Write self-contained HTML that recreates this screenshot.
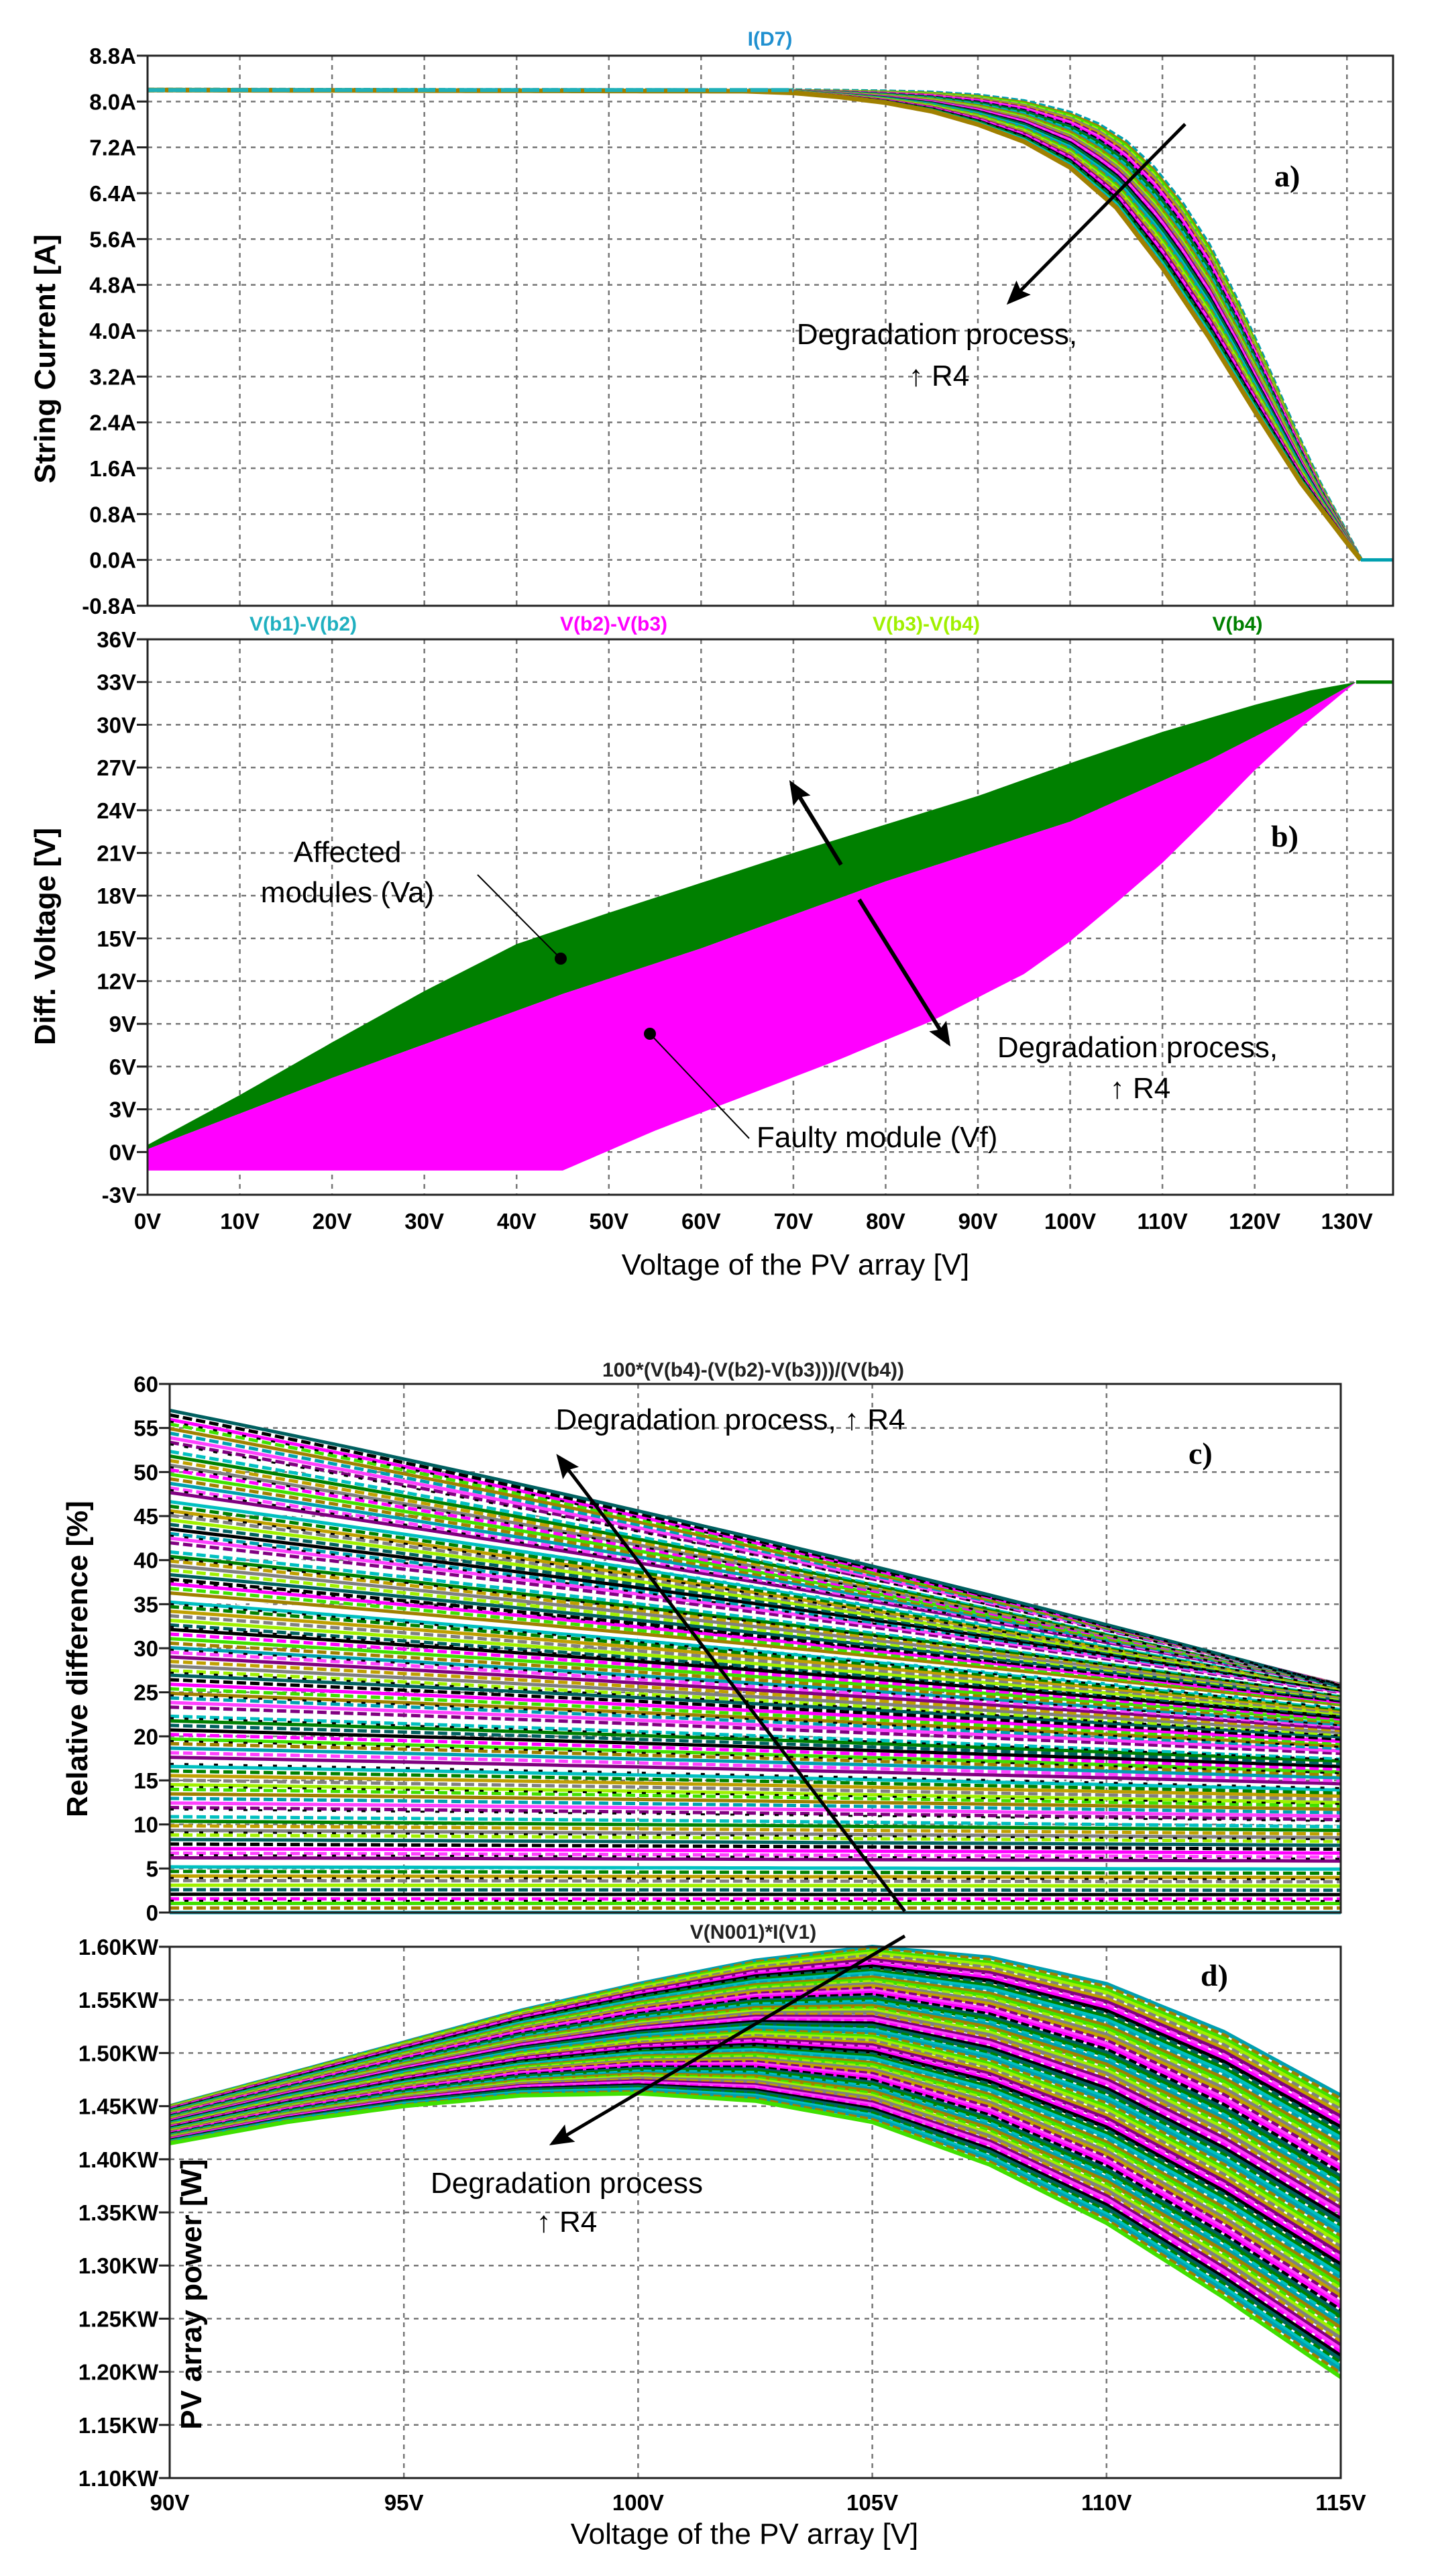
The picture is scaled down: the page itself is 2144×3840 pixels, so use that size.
<!DOCTYPE html>
<html><head><meta charset="utf-8"><style>
html,body{margin:0;padding:0;background:#fff;}
svg{display:block;}
text{font-family:"Liberation Sans",sans-serif;}
.tk{font-size:33px;font-weight:bold;fill:#000;}
.lab{font-size:44px;font-weight:bold;fill:#000;}
.ann{font-size:44px;fill:#000;}
.pl{font-family:"Liberation Serif",serif;font-size:46px;font-weight:bold;fill:#000;}
.ttl{font-size:30px;font-weight:bold;}
</style></head><body>
<svg id="s" width="2144" height="3840" viewBox="0 0 2144 3840" xmlns="http://www.w3.org/2000/svg">
<defs>
<marker id="ah2" markerWidth="36" markerHeight="30" refX="30" refY="15" orient="auto" markerUnits="userSpaceOnUse"><path d="M0,0 L36,15 L0,30 L6,15 z" fill="#000"/></marker></defs>
<g id="g"></g>
</svg>
<script>
var G=document.getElementById('g'),out=[];
function add(s){out.push(s);}
var COLS=['#00a0b0','#ff00ff','#a0f000','#008000','#800080','#a08000','#000000','#808080','#00c0c0','#ff40ff','#40e000','#006060','#c0a000','#ffffff'];
function interp(xs,ys,x){if(x<=xs[0])return ys[0];for(var i=1;i<xs.length;i++){if(x<=xs[i]){var t=(x-xs[i-1])/(xs[i]-xs[i-1]);return ys[i-1]+t*(ys[i]-ys[i-1]);}}return ys[ys.length-1];}
function frame(L,R,T,B,nx,ny){var s='';for(var i=1;i<nx;i++){var x=L+(R-L)*i/nx;s+='<line x1="'+x+'" y1="'+T+'" x2="'+x+'" y2="'+B+'" stroke="#777" stroke-width="2.5" stroke-dasharray="7,7"/>';}
for(var j=1;j<ny;j++){var y=T+(B-T)*j/ny;s+='<line x1="'+L+'" y1="'+y+'" x2="'+R+'" y2="'+y+'" stroke="#777" stroke-width="2.5" stroke-dasharray="7,7"/>';}return s;}
function box(L,R,T,B){return '<rect x="'+L+'" y="'+T+'" width="'+(R-L)+'" height="'+(B-T)+'" fill="none" stroke="#222" stroke-width="3"/>';}
function yt(L,T,B,labels,tx){var s='',n=labels.length-1;for(var j=0;j<=n;j++){var y=T+(B-T)*j/n;s+='<line x1="'+(L-16)+'" y1="'+y+'" x2="'+L+'" y2="'+y+'" stroke="#222" stroke-width="3"/><text class="tk" x="'+tx+'" y="'+(y+12)+'" text-anchor="end">'+labels[j]+'</text>';}return s;}
// ---------- Panel a ----------
var aL=220,aR=2077,aT=83,aB=903;
function ax(v){return aL+(v/135)*(aR-aL);} function ay(i){return aT+(8.8-i)/9.6*(aB-aT);}
add(frame(aL,aR,aT,aB,1,12));
for(var k=1;k<=13;k++){var x=ax(k*10);add('<line x1="'+x+'" y1="'+aT+'" x2="'+x+'" y2="'+aB+'" stroke="#777" stroke-width="2.5" stroke-dasharray="7,7"/>');}
var VU=[0,70,80,85,90,95,100,103,106,109,112,115,118,121,124,127,130,131.5];
var UP=[8.2,8.19,8.17,8.15,8.1,8.0,7.8,7.6,7.3,6.85,6.25,5.5,4.55,3.5,2.4,1.35,0.45,0];
var VLo=[0,65,70,75,80,85,90,95,100,105,110,115,120,125,130,131.5];
var LO=[8.2,8.18,8.15,8.08,7.98,7.83,7.6,7.3,6.85,6.15,5.1,3.9,2.6,1.35,0.3,0];
for(var c=0;c<=40;c++){var t=c/40,p='';for(var v=0;v<=131.5;v+=0.5){var i=interp(VU,UP,v)*(1-t)+interp(VLo,LO,v)*t;p+=(p?'L':'M')+ax(v).toFixed(1)+','+ay(i).toFixed(1);}
add('<path d="'+p+'" fill="none" stroke="'+COLS[(c*5)%13]+'" stroke-width="'+(c==0||c==40?7:5)+'"'+(c%3==0?' stroke-dasharray="10,4"':'')+'/>');}
add('<line x1="'+ax(131.5)+'" y1="'+ay(0)+'" x2="'+aR+'" y2="'+ay(0)+'" stroke="#00a0b0" stroke-width="5"/>');
add('<line x1="'+aL+'" y1="'+ay(8.2)+'" x2="'+ax(70)+'" y2="'+ay(8.2)+'" stroke="#20b0b8" stroke-width="6" stroke-dasharray="26,5"/>');
add(box(aL,aR,aT,aB));
add(yt(aL,aT,aB,['8.8A','8.0A','7.2A','6.4A','5.6A','4.8A','4.0A','3.2A','2.4A','1.6A','0.8A','0.0A','-0.8A'],203));
add('<text class="ttl" x="1148" y="68" text-anchor="middle" fill="#2090d0">I(D7)</text>');
add('<text class="lab" transform="translate(82,535) rotate(-90)" text-anchor="middle">String Current [A]</text>');
add('<text class="pl" x="1900" y="278">a)</text>');
add('<line x1="1767" y1="185" x2="1505" y2="450" stroke="#000" stroke-width="5" marker-end="url(#ah2)"/>');
add('<text class="ann" x="1397" y="513" text-anchor="middle">Degradation process,</text>');
add('<text class="ann" x="1400" y="575" text-anchor="middle">↑ R4</text>');
// ---------- Panel b ----------
var bT=953,bB=1781;
function by(v){return bT+(36-v)/39*(bB-bT);}
add(frame(aL,aR,bT,bB,1,13));
for(var k=1;k<=13;k++){var x=ax(k*10);add('<line x1="'+x+'" y1="'+bT+'" x2="'+x+'" y2="'+bB+'" stroke="#777" stroke-width="2.5" stroke-dasharray="7,7"/>');}
var VG=[0,10,20,30,40,45,50,60,70,80,90,100,110,120,126,131];
var GT=[0.5,4,7.7,11.3,14.6,15.7,16.8,18.9,21,23,25,27.3,29.5,31.4,32.4,33];
var VM=[0,20,45,60,80,100,115,125,131];
var MB=[0.2,5.2,11.1,14.3,19.0,23.2,27.5,30.8,33];
var VL=[0,45,55,65,75,85,95,100,105,110,115,120,125,131],LW=[-1.3,-1.3,1.5,4,6.5,9.2,12.5,14.8,17.5,20.3,23.5,26.8,29.8,33];
function poly(xs,top,xs2,bot){var p='';for(var v=0;v<=131;v+=1)p+=(p?'L':'M')+ax(v).toFixed(1)+','+by(interp(xs,top,v)).toFixed(1);for(var v=131;v>=0;v-=1)p+='L'+ax(v).toFixed(1)+','+by(interp(xs2,bot,v)).toFixed(1);return p+'Z';}
add('<path d="'+poly(VG,GT,VM,MB)+'" fill="#008000"/>');
add('<path d="'+poly(VM,MB,VL,LW)+'" fill="#ff00ff"/>');
add('<line x1="'+ax(131)+'" y1="'+by(33)+'" x2="'+aR+'" y2="'+by(33)+'" stroke="#008000" stroke-width="5"/>');
add(box(aL,aR,bT,bB));
var bl=[];for(var v=36;v>=-3;v-=3)bl.push(v+'V');add(yt(aL,bT,bB,bl,203));
for(var k=0;k<=13;k++)add('<text class="tk" x="'+ax(k*10)+'" y="1832" text-anchor="middle">'+k*10+'V</text>');
add('<text class="ttl" x="452" y="940" text-anchor="middle" fill="#20b0c0">V(b1)-V(b2)</text>');
add('<text class="ttl" x="915" y="940" text-anchor="middle" fill="#ff00ff">V(b2)-V(b3)</text>');
add('<text class="ttl" x="1381" y="940" text-anchor="middle" fill="#a0f000">V(b3)-V(b4)</text>');
add('<text class="ttl" x="1845" y="940" text-anchor="middle" fill="#008000">V(b4)</text>');
add('<text class="lab" transform="translate(82,1396) rotate(-90)" text-anchor="middle">Diff. Voltage [V]</text>');
add('<text class="lab" x="1186" y="1900" text-anchor="middle" style="font-weight:normal">Voltage of the PV array [V]</text>');
add('<text class="pl" x="1895" y="1262">b)</text>');
add('<text class="ann" x="518" y="1285" text-anchor="middle">Affected</text>');
add('<text class="ann" x="518" y="1345" text-anchor="middle">modules (Va)</text>');
add('<line x1="712" y1="1304" x2="836" y2="1429" stroke="#000" stroke-width="2"/><circle cx="836" cy="1429" r="9" fill="#000"/>');
add('<line x1="969" y1="1541" x2="1117" y2="1697" stroke="#000" stroke-width="2"/><circle cx="969" cy="1541" r="9" fill="#000"/>');
add('<text class="ann" x="1128" y="1710">Faulty module (Vf)</text>');
add('<line x1="1254" y1="1289" x2="1180" y2="1168" stroke="#000" stroke-width="6" marker-end="url(#ah2)"/>');
add('<line x1="1281" y1="1341" x2="1414" y2="1555" stroke="#000" stroke-width="6" marker-end="url(#ah2)"/>');
add('<text class="ann" x="1696" y="1576" text-anchor="middle">Degradation process,</text>');
add('<text class="ann" x="1700" y="1637" text-anchor="middle">↑ R4</text>');
// ---------- Panel c ----------
var cL=253,cR=1999,cT=2063,cB=2851;
function cx(v){return cL+(v-90)/25*(cR-cL);} function cy(r){return cT+(60-r)/60*(cB-cT);}
add(frame(cL,cR,cT,cB,5,12));
function cpath(r){var rr=r*(1-0.55*r/57);var p='';for(var v=90;v<=115.01;v+=0.5){var t=(v-90)/25;var y=r+(rr-r)*(t*0.85+0.15*t*t);p+=(p?'L':'M')+cx(v).toFixed(1)+','+cy(y).toFixed(1);}return p;}
for(var c=0;c<=110;c++){var r=57*c/110;var col=COLS[(c*5+Math.floor(c/14))%14];add('<path d="'+cpath(r)+'" fill="none" stroke="'+col+'" stroke-width="5"'+(c%2?' stroke-dasharray="14,6"':'')+'/>');}
for(var c=2;c<=110;c+=5){add('<path d="'+cpath(57*c/110+0.3)+'" fill="none" stroke="#000" stroke-width="3" stroke-dasharray="6,16"/>');}
add(box(cL,cR,cT,cB));
var cl=[];for(var v=60;v>=0;v-=5)cl.push(v);add(yt(cL,cT,cB,cl,236));
add('<text class="ttl" x="1123" y="2052" text-anchor="middle" fill="#222">100*(V(b4)-(V(b2)-V(b3)))/(V(b4))</text>');
add('<text class="lab" transform="translate(130,2473) rotate(-90)" text-anchor="middle">Relative difference [%]</text>');
add('<text class="pl" x="1772" y="2182">c)</text>');
add('<line x1="1349" y1="2849" x2="833" y2="2172" stroke="#000" stroke-width="5" marker-end="url(#ah2)"/>');
add('<text class="ann" x="1089" y="2131" text-anchor="middle">Degradation process, ↑ R4</text>');
// ---------- Panel d ----------
var dT=2902,dB=3694;
function dy(p){return dT+(1.6-p)/0.5*(dB-dT);}
add(frame(cL,cR,dT,dB,5,10));
var VD=[90,92.5,95,97.5,100,102.5,105,107.5,110,112.5,115];
var UPd=[1.45,1.48,1.51,1.54,1.565,1.587,1.60,1.59,1.565,1.52,1.46];
var LOd=[1.415,1.435,1.45,1.46,1.462,1.455,1.435,1.395,1.34,1.27,1.195];
for(var c=0;c<=80;c++){var t=c/80,p='';for(var v=90;v<=115.01;v+=0.25){var y=interp(VD,UPd,v)*(1-t)+interp(VD,LOd,v)*t;if(y>1.6)y=1.6;p+=(p?'L':'M')+cx(v).toFixed(1)+','+dy(y).toFixed(1);}
add('<path d="'+p+'" fill="none" stroke="'+COLS[(c*5)%13]+'" stroke-width="6"'+(c%3==1?' stroke-dasharray="12,5"':'')+'/>');}
add(box(cL,cR,dT,dB));
var dl=[];for(var k=0;k<=10;k++)dl.push((1.6-k*0.05).toFixed(2)+'KW');add(yt(cL,dT,dB,dl,236));
for(var k=0;k<=5;k++)add('<text class="tk" x="'+cx(90+5*k)+'" y="3742" text-anchor="middle">'+(90+5*k)+'V</text>');
add('<text class="ttl" x="1123" y="2890" text-anchor="middle" fill="#222">V(N001)*I(V1)</text>');
add('<text class="lab" transform="translate(300,3420) rotate(-90)" text-anchor="middle">PV array power [W]</text>');
add('<text class="lab" x="1110" y="3792" text-anchor="middle" style="font-weight:normal">Voltage of the PV array [V]</text>');
add('<text class="pl" x="1790" y="2960">d)</text>');
add('<line x1="1349" y1="2886" x2="824" y2="3195" stroke="#000" stroke-width="5" marker-end="url(#ah2)"/>');
add('<text class="ann" x="845" y="3269" text-anchor="middle">Degradation process</text>');
add('<text class="ann" x="845" y="3327" text-anchor="middle">↑ R4</text>');
G.innerHTML=out.join('');
</script>
</body></html>
